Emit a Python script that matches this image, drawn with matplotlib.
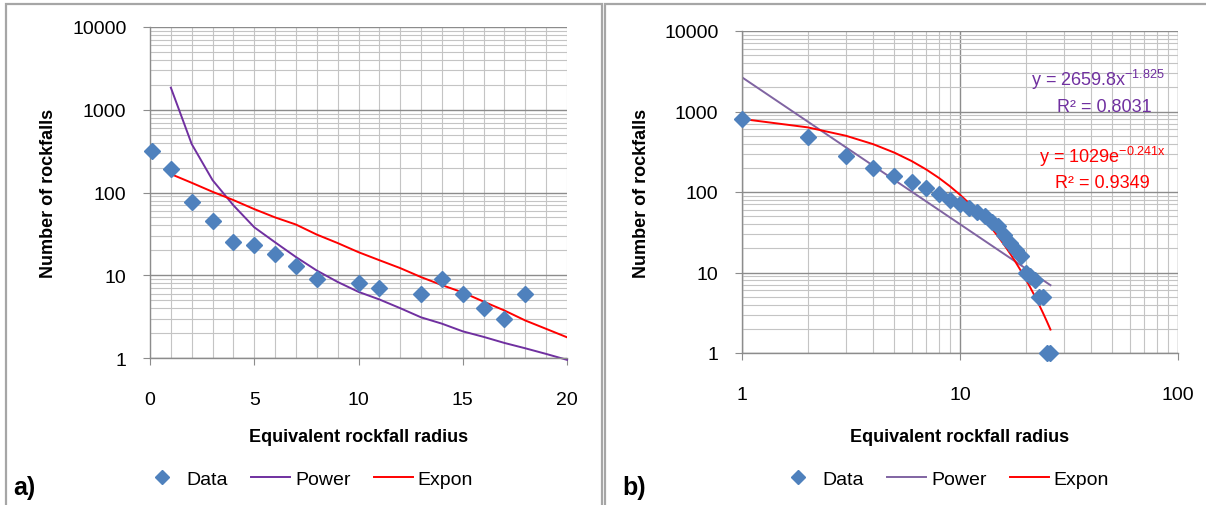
import numpy as np
import matplotlib
matplotlib.use('Agg')
import matplotlib.pyplot as plt
from matplotlib.patches import Rectangle
from matplotlib.ticker import MultipleLocator, LogLocator, NullFormatter, FixedLocator, FixedFormatter

plt.rcParams['font.family'] = ['Liberation Sans', 'DejaVu Sans']
plt.rcParams['mathtext.fontset'] = 'custom'
plt.rcParams['mathtext.rm'] = 'Liberation Sans'
plt.rcParams['mathtext.default'] = 'regular'

# a) rockfall counts against radius (linear x)
radius_a = [0.1, 1, 2, 3, 4, 5, 6, 7, 8, 10, 11, 13, 14, 15, 16, 17, 18]
count_a = [320, 190, 76, 45, 25, 23, 18, 13, 9, 8, 7, 6, 9, 6, 4, 3, 6]
fit_x_a = list(range(1, 21))
power_a = [1850, 385, 141, 70, 38, 25, 16.6, 11.4, 8.3, 6.3,
           5.1, 4.0, 3.1, 2.6, 2.1, 1.8, 1.52, 1.31, 1.12, 0.95]
expon_a = [167, 131, 102, 81, 63, 50, 41, 31, 24.5, 19,
           15.2, 12.2, 9.5, 7.6, 6.2, 4.8, 3.75, 2.84, 2.25, 1.78]

# b) cumulative counts, log-log
radius_b = list(range(1, 27))
count_b = [800, 480, 280, 200, 160, 133, 112, 95, 80, 71, 63, 56, 50,
           43, 38, 29, 23, 19, 16, 10, 9, 8, 5, 5, 1, 1]
power_coef, power_exp, power_r2 = 2659.8, -1.825, 0.8031
expon_coef, expon_rate, expon_r2 = 1029, -0.241, 0.9349

W, H = 1206, 506
fig = plt.figure(figsize=(W / 100, H / 100), dpi=100)

def fx(px):
    return px / W

def fy(py):
    return 1 - py / H

# panel frames
for x0, x1 in [(6, 602), (605, 1215)]:
    fig.patches.append(Rectangle((fx(x0), fy(515)), fx(x1 - x0), (515 - 5) / H,
                                 transform=fig.transFigure, fill=False,
                                 edgecolor='#A6A6A6', lw=1.6))

blue = '#4F81BD'
major_c = '#8C8C8C'
minor_c = '#C4C4C4'
tick_fs = 14

def style_axes(ax):
    ax.set_yscale('log')
    ax.set_ylim(1, 10000)
    ax.set_axisbelow(True)
    ax.yaxis.set_major_locator(FixedLocator([1, 10, 100, 1000, 10000]))
    ax.yaxis.set_major_formatter(FixedFormatter(['1', '10', '100', '1000', '10000']))
    ax.yaxis.set_minor_locator(LogLocator(base=10, subs=np.arange(2, 10)))
    ax.yaxis.set_minor_formatter(NullFormatter())
    ax.grid(which='major', axis='y', color=major_c, lw=1.0)
    ax.grid(which='minor', axis='y', color=minor_c, lw=0.8)
    for s in ['top', 'right']:
        ax.spines[s].set_visible(False)
    for s in ['left', 'bottom']:
        ax.spines[s].set_color(major_c)
        ax.spines[s].set_linewidth(1.0)
    ax.tick_params(which='major', axis='y', direction='out', length=5, color=major_c,
                   labelsize=tick_fs, pad=12)
    ax.tick_params(which='major', axis='x', direction='out', length=5, color=major_c,
                   labelsize=tick_fs, pad=19)
    ax.tick_params(which='minor', length=0)
    ax.set_ylabel('Number of rockfalls', fontsize=13, fontweight='bold')
    ax.set_xlabel('Equivalent rockfall radius', fontsize=13, fontweight='bold')

# ---- a) ----
ax1 = fig.add_axes([fx(150), fy(359), fx(567 - 150), (359 - 28) / H])
style_axes(ax1)
ax1.set_xlim(0, 20)
ax1.xaxis.set_major_locator(MultipleLocator(5))
ax1.xaxis.set_minor_locator(MultipleLocator(1))
ax1.grid(which='both', axis='x', color=minor_c, lw=0.8)
ax1.plot(radius_a, count_a, 'D', color=blue, ms=8, mec=blue, label='Data', zorder=3, clip_on=False)
ax1.plot(fit_x_a, power_a, '-', color='#7030A0', lw=1.4, label='Power', clip_on=False)
ax1.plot(fit_x_a, expon_a, '-', color='#FF0000', lw=1.4, label='Expon')
ax1.yaxis.set_label_coords((57 - 150) / (567 - 150), 0.5)
ax1.xaxis.set_label_coords(0.5, (359 - 429) / (359 - 28))

# ---- b) ----
ax2 = fig.add_axes([fx(742), fy(354), fx(1178 - 742), (354 - 32) / H])
style_axes(ax2)
ax2.set_xscale('log')
ax2.set_xlim(1, 100)
ax2.xaxis.set_major_locator(FixedLocator([1, 10, 100]))
ax2.xaxis.set_major_formatter(FixedFormatter(['1', '10', '100']))
ax2.xaxis.set_minor_locator(LogLocator(base=10, subs=np.arange(2, 10)))
ax2.xaxis.set_minor_formatter(NullFormatter())
ax2.grid(which='major', axis='x', color=major_c, lw=1.0)
ax2.grid(which='minor', axis='x', color=minor_c, lw=0.8)

rb = np.array(radius_b, dtype=float)
power_b = power_coef * rb ** power_exp
expon_b = expon_coef * np.exp(expon_rate * rb)
ax2.plot(radius_b, count_b, 'D', color=blue, ms=8, mec=blue, label='Data', zorder=3, clip_on=False)
ax2.plot(rb, power_b, '-', color='#8064A2', lw=1.4, label='Power')
ax2.plot(rb, expon_b, '-', color='#FF0000', lw=1.4, label='Expon')
ax2.yaxis.set_label_coords((650 - 742) / (1178 - 742), 0.5)
ax2.xaxis.set_label_coords(0.5, (354 - 429) / (354 - 32))

# trendline equations
fig.text(fx(1098), fy(80), 'y = %.1fx$^{%.3f}$' % (power_coef, power_exp),
         color='#7030A0', fontsize=13, ha='center', va='center')
fig.text(fx(1104), fy(107), 'R² = %.4f' % power_r2,
         color='#7030A0', fontsize=13, ha='center', va='center')
fig.text(fx(1102), fy(157), 'y = %de$^{%.3fx}$' % (expon_coef, expon_rate),
         color='#FF0000', fontsize=13, ha='center', va='center')
fig.text(fx(1102), fy(183), 'R² = %.4f' % expon_r2,
         color='#FF0000', fontsize=13, ha='center', va='center')

# legends under each panel
for ax, cx in [(ax1, 308), (ax2, 944)]:
    fig.legend(*ax.get_legend_handles_labels(), loc='center',
               bbox_to_anchor=(fx(cx), fy(480)), ncol=3, frameon=False,
               fontsize=14, numpoints=1, handlelength=2.0, handletextpad=0.25,
               columnspacing=1.2, markerscale=0.85)

fig.text(fx(24), fy(488), 'a)', fontsize=18, fontweight='bold', ha='center', va='center')
fig.text(fx(634), fy(488), 'b)', fontsize=18, fontweight='bold', ha='center', va='center')

fig.savefig('out.png', dpi=100)
